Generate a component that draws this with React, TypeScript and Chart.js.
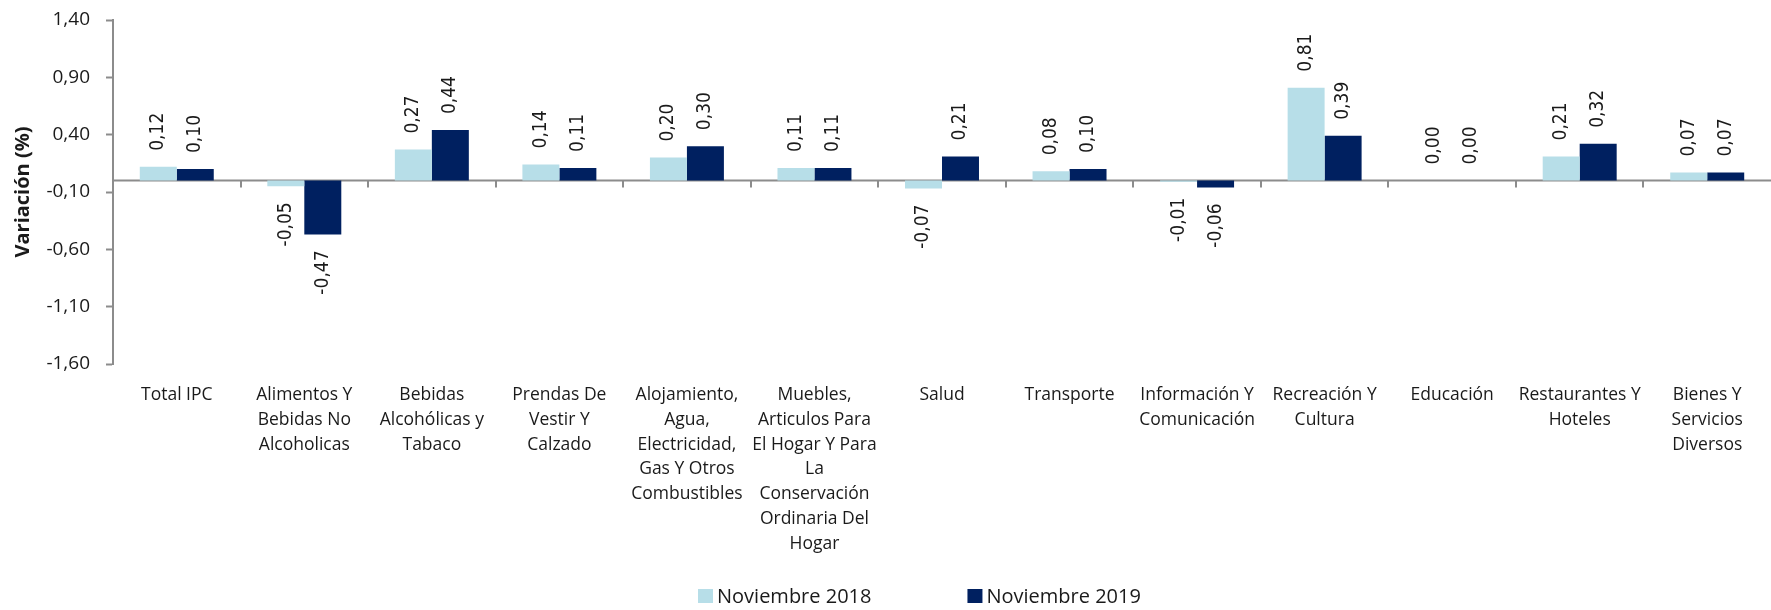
import React, { useEffect, useRef } from "react";
import { Chart, registerables } from "chart.js";

Chart.register(...registerables);

const categories: string[][] = [
  ["Total IPC"],
  ["Alimentos Y", "Bebidas No", "Alcoholicas"],
  ["Bebidas", "Alcohólicas y", "Tabaco"],
  ["Prendas De", "Vestir Y", "Calzado"],
  ["Alojamiento,", "Agua,", "Electricidad,", "Gas Y Otros", "Combustibles"],
  ["Muebles,", "Articulos Para", "El Hogar Y Para", "La", "Conservación", "Ordinaria Del", "Hogar"],
  ["Salud"],
  ["Transporte"],
  ["Información Y", "Comunicación"],
  ["Recreación Y", "Cultura"],
  ["Educación"],
  ["Restaurantes Y", "Hoteles"],
  ["Bienes Y", "Servicios", "Diversos"],
];

const seriesNames = ["Noviembre 2018", "Noviembre 2019"];
const nov2018 = [0.12, -0.05, 0.27, 0.14, 0.2, 0.11, -0.07, 0.08, -0.01, 0.81, 0.0, 0.21, 0.07];
const nov2019 = [0.1, -0.47, 0.44, 0.11, 0.3, 0.11, 0.21, 0.1, -0.06, 0.39, 0.0, 0.32, 0.07];
const seriesColors = ["#B7DEE8", "#002060"];

const yMin = -1.6;
const yMax = 1.4;
const yStep = 0.5;

const fmt = (v: number) => v.toFixed(2).replace(".", ",");

const AXIS_GRAY = "#8c8c8c";
const TEXT = "#1a1a1a";

const decorPlugin = {
  id: "decor",
  beforeDatasetsDraw(chart: any) {
    const { ctx, chartArea, scales } = chart;
    const y0 = scales.y.getPixelForValue(0);
    const xs = scales.x;
    ctx.save();
    ctx.strokeStyle = AXIS_GRAY;
    ctx.lineWidth = 2;
    ctx.beginPath();
    ctx.moveTo(chartArea.left, y0);
    ctx.lineTo(chartArea.right, y0);
    ctx.stroke();
    const n = chart.data.labels.length;
    for (let i = 1; i < n; i++) {
      const x = Math.round((xs.getPixelForValue(i - 1) + xs.getPixelForValue(i)) / 2);
      ctx.beginPath();
      ctx.moveTo(x, y0);
      ctx.lineTo(x, y0 + 7);
      ctx.stroke();
    }
    ctx.restore();
  },
  afterDatasetsDraw(chart: any) {
    const { ctx } = chart;
    ctx.save();
    ctx.font = "19px 'DejaVu Sans'";
    ctx.fillStyle = TEXT;
    ctx.textBaseline = "middle";
    chart.data.datasets.forEach((ds: any, di: number) => {
      const meta = chart.getDatasetMeta(di);
      meta.data.forEach((el: any, i: number) => {
        const v = ds.data[i];
        const txt = fmt(v);
        ctx.save();
        if (v >= 0) {
          ctx.translate(el.x, el.y - 16);
          ctx.rotate(-Math.PI / 2);
          ctx.scale(0.9, 1);
          ctx.textAlign = "left";
        } else {
          ctx.translate(el.x, el.y + 16);
          ctx.rotate(-Math.PI / 2);
          ctx.scale(0.9, 1);
          ctx.textAlign = "right";
        }
        ctx.fillText(txt, 0, 0);
        ctx.restore();
      });
    });
    ctx.restore();
  },
  afterDraw(chart: any) {
    const { ctx } = chart;
    ctx.save();
    ctx.font = "20px 'Open Sans'";
    ctx.textBaseline = "middle";
    ctx.textAlign = "left";
    let x = 698;
    const yc = 596;
    chart.data.datasets.forEach((ds: any) => {
      ctx.fillStyle = ds.backgroundColor;
      ctx.fillRect(x, yc - 7, 15, 14);
      ctx.fillStyle = TEXT;
      ctx.fillText(ds.label, x + 19, yc + 1);
      const tw = ctx.measureText(ds.label).width;
      x += 19 + tw + 96;
    });
    ctx.restore();
  },
};

export default function App() {
  const ref = useRef<HTMLCanvasElement | null>(null);
  useEffect(() => {
    document.body.style.margin = "0";
    const canvas = ref.current;
    if (!canvas) return;
    const chart = new Chart(canvas, {
      type: "bar",
      data: {
        labels: categories,
        datasets: [
          { label: seriesNames[0], data: nov2018, backgroundColor: seriesColors[0], categoryPercentage: 0.58, barPercentage: 1.0 },
          { label: seriesNames[1], data: nov2019, backgroundColor: seriesColors[1], categoryPercentage: 0.58, barPercentage: 1.0 },
        ],
      },
      options: {
        responsive: false,
        animation: false,
        devicePixelRatio: 1,
        layout: { padding: { top: 20, right: 0, bottom: 0, left: 0 } },
        plugins: {
          legend: { display: false },
          tooltip: { enabled: false },
        },
        scales: {
          x: {
            grid: { display: false },
            border: { display: false },
            ticks: {
              autoSkip: false,
              maxRotation: 0,
              minRotation: 0,
              padding: 11,
              color: TEXT,
              font: { family: "'Open Sans'", size: 17.5, lineHeight: "24.7px" },
            },
            afterFit(scale: any) {
              scale.height = 246;
              scale.paddingLeft = 0;
              scale.paddingRight = 0;
            },
          },
          y: {
            min: yMin,
            max: yMax,
            ticks: {
              stepSize: yStep,
              padding: 16,
              color: TEXT,
              font: { family: "'Open Sans'", size: 19 },
              callback: (v: any) => fmt(Number(v)),
            },
            grid: {
              drawOnChartArea: false,
              drawTicks: true,
              tickLength: 7,
              tickColor: AXIS_GRAY,
              tickWidth: 2,
              color: AXIS_GRAY,
            },
            border: { display: true, color: AXIS_GRAY, width: 2 },
            title: {
              display: true,
              text: "Variación (%)",
              color: TEXT,
              font: { family: "'Open Sans'", size: 20, weight: "bold" },
              padding: { top: 11, bottom: 0 },
            },
            afterFit(scale: any) {
              scale.width = 113;
              scale.paddingTop = 0;
              scale.paddingBottom = 0;
            },
          },
        },
      },
      plugins: [decorPlugin],
    } as any);
    return () => chart.destroy();
  }, []);
  return (
    <div style={{ width: 1771, height: 610 }}>
      <canvas ref={ref} width={1771} height={610} style={{ display: "block" }} />
    </div>
  );
}
